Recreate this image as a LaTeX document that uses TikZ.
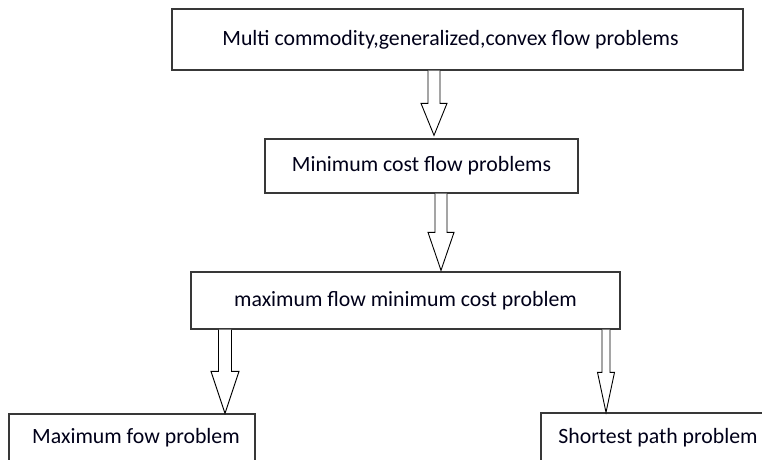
\documentclass[tikz,border=0pt]{standalone}
\usepackage{fontspec}
\setmainfont{Carlito}
\usetikzlibrary{calc}
\begin{document}
\begin{tikzpicture}[x=1pt,y=-1pt,
  box/.style={draw=black!78,line width=1.3pt,fill=white,inner sep=0pt,
    font=\fontsize{21.8}{26}\selectfont,text=black!90!blue},
  arrowline/.style={draw=black,line width=0.9pt,fill=white,line join=miter}]
\useasboundingbox (0,0) rectangle (762,459);

% boxes
\node[box,minimum width=571,minimum height=61] (b1) at (457.5,39.5)
  {\hspace*{-14pt}Multi commodity,generalized,convex flow problems};
\node[box,minimum width=313,minimum height=54] (b2) at (421.5,166)
  {Minimum cost flow problems};
\node[box,minimum width=429,minimum height=57] (b3) at (405.5,300.5)
  {maximum flow minimum cost problem};
\node[box,minimum width=246,minimum height=48] (b4) at (132,438)
  {\hspace*{8pt}Maximum fow problem};
\node[box,minimum width=234,minimum height=50] (b5) at (658,438)
  {\raisebox{3pt}{Shortest path problem}};

% block arrow: #1 start on the upper box, #2 tip, #3 shaft half width,
% #4 head half width, #5 head length
\newcommand{\blockarrow}[5]{%
  \draw[arrowline] ($(#1)+(-#3,0)$) -- ($(#2)+(-#3,-#5)$) -- ($(#2)+(-#4,-#5)$)
    -- (#2) -- ($(#2)+(#4,-#5)$) -- ($(#2)+(#3,-#5)$) -- ($(#1)+(#3,0)$);}

\coordinate (a1s) at (b1.south -| 434,0);
\coordinate (a1t) at ($(a1s |- b2.north)+(0,-3)$);
\coordinate (a2s) at (b2.south -| 441,0);
\coordinate (a2t) at ($(a2s |- b3.north)+(0,-1)$);
\coordinate (a3s) at (b3.south -| 225,0);
\coordinate (a3t) at (a3s |- b4.north);
\coordinate (a4s) at (b3.south -| 606,0);
\coordinate (a4t) at (a4s |- b5.north);

\blockarrow{a1s}{a1t}{6}{13}{32}
\blockarrow{a2s}{a2t}{6}{13}{38}
\blockarrow{a3s}{a3t}{6.5}{14}{42}
\blockarrow{a4s}{a4t}{4}{8.5}{40}
\end{tikzpicture}
\end{document}
